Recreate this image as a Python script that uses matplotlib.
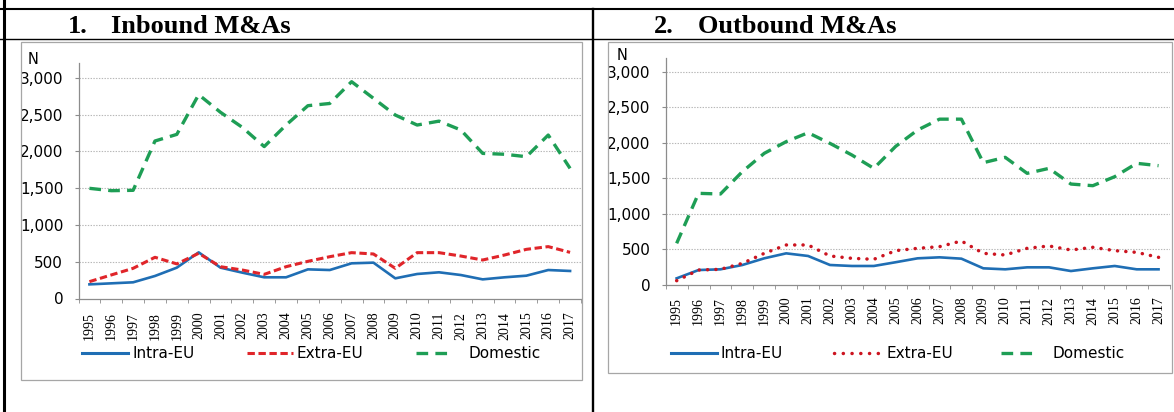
import matplotlib
matplotlib.use("Agg")
import matplotlib.pyplot as plt
from matplotlib.lines import Line2D
from matplotlib.patches import Rectangle

plt.rcParams['lines.scale_dashes'] = False

years = list(range(1995, 2018))
year_labels = [str(y) for y in years]

in_intra = [192, 206, 220, 306, 419, 627, 419, 351, 288, 288, 396, 387, 478, 487, 274, 333, 356, 319, 260, 288, 310, 387, 374]
in_extra = [229, 320, 410, 560, 470, 614, 432, 387, 328, 432, 505, 568, 623, 605, 410, 623, 623, 577, 523, 591, 668, 705, 627]
in_dom = [1497, 1465, 1470, 2140, 2230, 2770, 2530, 2325, 2064, 2357, 2620, 2650, 2946, 2720, 2493, 2357, 2410, 2290, 1972, 1960, 1927, 2221, 1768]

out_intra = [91, 208, 218, 279, 373, 443, 406, 279, 265, 265, 318, 373, 387, 368, 232, 218, 246, 246, 194, 232, 265, 218, 218]
out_extra = [58, 208, 218, 302, 443, 561, 561, 406, 373, 359, 481, 514, 537, 617, 443, 420, 514, 547, 490, 528, 481, 457, 387]
out_dom = [584, 1288, 1279, 1594, 1852, 2016, 2142, 1992, 1828, 1640, 1950, 2180, 2333, 2333, 1720, 1795, 1570, 1640, 1419, 1396, 1523, 1711, 1678]

series_names = ["Intra-EU", "Extra-EU", "Domestic"]
ytick_vals = [0, 500, 1000, 1500, 2000, 2500, 3000]
ytick_labels = ["0", "500", "1,000", "1,500", "2,000", "2,500", "3,000"]

BLUE = '#1f6eb4'
RED = '#e0252a'
RED2 = '#cc1420'
GREEN = '#1e9e55'
GRAY = '#a6a6a6'

W, H = 1174, 412
fig = plt.figure(figsize=(W / 100, H / 100), dpi=100)
fig.patch.set_facecolor('white')


def fx(x):
    return x / W


def fy(y):
    return 1 - y / H


def rect(l, t, r, b):
    return [l / W, 1 - b / H, (r - l) / W, (b - t) / H]


def fline(x0, y0, x1, y1, **kw):
    fig.add_artist(Line2D([fx(x0), fx(x1)], [fy(y0), fy(y1)], transform=fig.transFigure, **kw))


# table lines
fline(0, 9, W, 9, color='black', lw=1.5)
fline(0, 39.3, W, 39.3, color='black', lw=1.0)
fline(4.3, 0, 4.3, H, color='black', lw=2.2)
fline(592.5, 9, 592.5, H, color='black', lw=1.7)

# titles
tfont = dict(family='Liberation Serif', weight='bold', size=19, color='black')
fig.text(fx(68), fy(33), "1.", va='baseline', ha='left', **tfont)
fig.text(fx(111), fy(33), "Inbound M&As", va='baseline', ha='left', **tfont)
fig.text(fx(654), fy(33), "2.", va='baseline', ha='left', **tfont)
fig.text(fx(698), fy(33), "Outbound M&As", va='baseline', ha='left', **tfont)

# chart frames
fig.add_artist(Rectangle((fx(20.5), fy(380)), (582 - 20.5) / W, (380 - 42) / H,
                         transform=fig.transFigure, fill=False, edgecolor=GRAY, lw=0.9))
fig.add_artist(Rectangle((fx(607.7), fy(373.3)), (1171.5 - 607.7) / W, (373.3 - 41.7) / H,
                         transform=fig.transFigure, fill=False, edgecolor=GRAY, lw=0.9))


def setup_axes(ax, label_pad):
    ax.set_xlim(-0.5, len(years) - 0.5)
    ax.set_ylim(0, 3200)
    for s in ['top', 'right']:
        ax.spines[s].set_visible(False)
    for s in ['left', 'bottom']:
        ax.spines[s].set_color('#8c8c8c')
        ax.spines[s].set_linewidth(0.9)
    ax.set_yticks(ytick_vals)
    ax.set_yticklabels(ytick_labels, family='DejaVu Sans', fontsize=11, color='black')
    ax.tick_params(axis='y', length=3, color='#8c8c8c', pad=8)
    ax.set_xticks(range(len(years)))
    ax.set_xticklabels(year_labels, rotation=90, family='Liberation Serif', fontsize=10,
                       va='top', ha='center')
    ax.tick_params(axis='x', which='major', length=0, pad=label_pad)
    ax.set_xticks([i - 0.5 for i in range(len(years) + 1)], minor=True)
    ax.tick_params(axis='x', which='minor', length=3, color='#8c8c8c', direction='out')
    for v in ytick_vals[1:]:
        ax.axhline(v, color='#b8b8b8', lw=0.8, ls=(0, (1, 1)), zorder=0)
    ax.set_facecolor('none')


x = list(range(len(years)))

# chart 1
ax1 = fig.add_axes(rect(78.5, 63, 581, 298.5))
setup_axes(ax1, 9.5)
ax1.plot(x, in_intra, color=BLUE, lw=1.9, solid_joinstyle='round', zorder=3)
ax1.plot(x, in_extra, color=RED, lw=2.2, dashes=(5.3, 2.6), zorder=3)
ax1.plot(x, in_dom, color=GREEN, lw=2.4, dashes=(8.4, 5.2), zorder=3)
fig.text(fx(33), fy(59), "N", ha='center', va='center', family='DejaVu Sans', fontsize=10.5)

# chart 2
ax2 = fig.add_axes(rect(665.7, 57.6, 1169.5, 284.8))
setup_axes(ax2, 8.6)
ax2.plot(x, out_intra, color=BLUE, lw=1.9, solid_joinstyle='round', zorder=3)
ax2.plot(x, out_extra, color=RED2, lw=2.5, dashes=(0.1, 5.9), dash_capstyle='round', zorder=3)
ax2.plot(x, out_dom, color=GREEN, lw=2.4, dashes=(8.4, 5.2), zorder=3)
fig.text(fx(621.7), fy(55), "N", ha='center', va='center', family='DejaVu Sans', fontsize=10.5)

# legends
lfont = dict(family='DejaVu Sans', fontsize=11, va='center', ha='left', color='black')
ly = 353
fline(81.5, ly, 128, ly, color=BLUE, lw=2.2)
fig.text(fx(132), fy(ly), series_names[0], **lfont)
fline(247, ly, 293.4, ly, color=RED, lw=2.2, dashes=(5.3, 2.6))
fig.text(fx(297), fy(ly), series_names[1], **lfont)
fline(416, ly, 451, ly, color=GREEN, lw=2.4, dashes=(8.4, 5.2))
fig.text(fx(468), fy(ly), series_names[2], **lfont)

fline(671, ly, 717, ly, color=BLUE, lw=2.2)
fig.text(fx(721), fy(ly), series_names[0], **lfont)
fline(834, ly, 880, ly, color=RED2, lw=2.5, dashes=(0.1, 6.2), dash_capstyle='round')
fig.text(fx(886), fy(ly), series_names[1], **lfont)
fline(1001, ly, 1036, ly, color=GREEN, lw=2.4, dashes=(8.4, 5.2))
fig.text(fx(1052), fy(ly), series_names[2], **lfont)

fig.savefig("out.png", dpi=100, facecolor='white')
